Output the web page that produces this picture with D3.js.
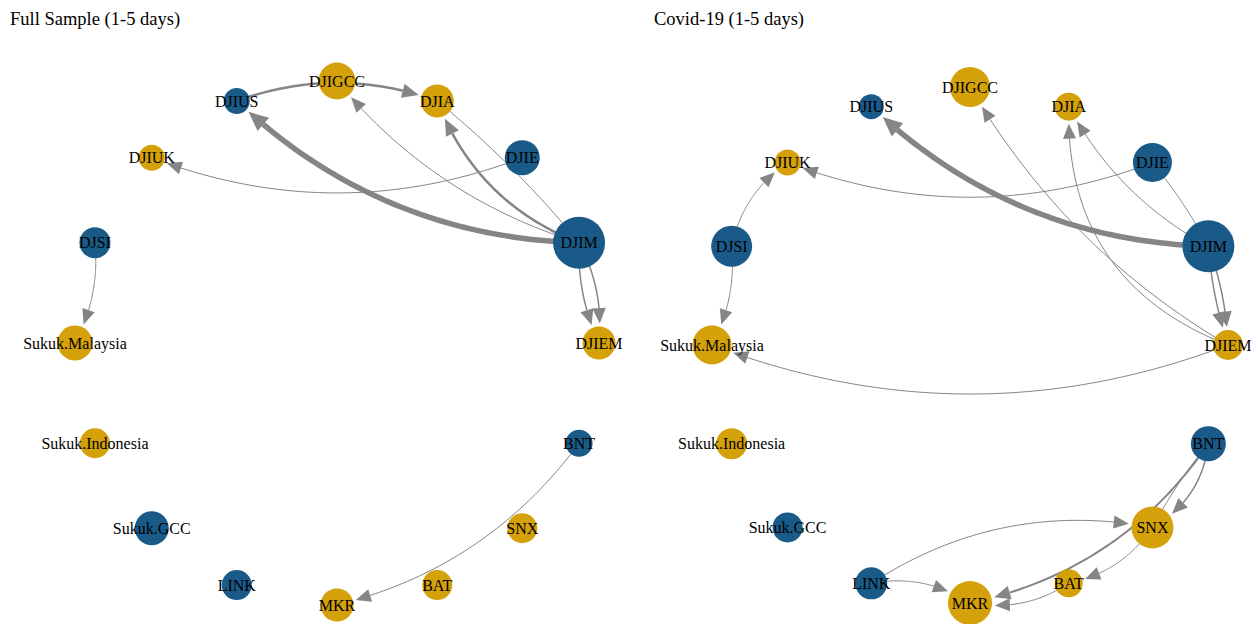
<!DOCTYPE html>
<html>
<head>
<meta charset="utf-8">
<script src="https://cdn.jsdelivr.net/npm/d3@7"></script>
<style>
    body { margin: 0; background: #fff; }
    svg { display: block; }
    text { font-family: "Liberation Serif", "Times New Roman", serif; fill: #000; }
</style>
</head>
<body>
<div id="chart"></div>
<script>
// nodes in circle-layout order (starting at the right, going counter-clockwise)
const nodes = ["DJIEM", "DJIM", "DJIE", "DJIA", "DJIGCC", "DJIUS", "DJIUK", "DJSI",
    "Sukuk.Malaysia", "Sukuk.Indonesia", "Sukuk.GCC", "LINK", "MKR", "BAT", "SNX", "BNT"];
const groups = ["receiver", "transmitter", "transmitter", "receiver", "receiver", "transmitter", "receiver", "transmitter",
    "receiver", "receiver", "transmitter", "transmitter", "receiver", "receiver", "receiver", "transmitter"];

// vertex sizes
const sizeFull = [16.5, 26, 17.5, 16.5, 18.5, 13, 13, 15.5, 17.5, 15, 17, 15, 16.5, 15, 15, 13.5];
const sizeCovid = [15, 26, 19.5, 14, 20, 12.5, 13, 20.5, 19.5, 15.5, 15, 16, 22, 14, 21, 17.5];

// edges: full sample
const fullFrom = ["DJIUS", "DJIM", "DJIM", "DJIM", "DJIA", "DJIE", "DJIM", "DJIM", "DJSI", "BNT"];
const fullTo = ["DJIA", "DJIUS", "DJIGCC", "DJIA", "DJIM", "DJIUK", "DJIEM", "DJIEM", "Sukuk.Malaysia", "MKR"];
const fullWidth = [2.5, 5.5, 1, 2.5, 1, 1, 1.5, 1.5, 1, 1];
const fullCurve = [0.18, 0.19, 0.15, 0.22, 0.05, 0.19, 0.15, -0.12, 0.15, 0.18];
const fullArrow = [1, 1, 1, 1, 0, 1, 1, 1, 1, 1];

// edges: covid-19
const covFrom = ["DJIM", "DJIEM", "DJIEM", "DJIM", "DJIE", "DJIE", "DJSI", "DJSI", "DJIM", "DJIM",
    "DJIEM", "BNT", "SNX", "BNT", "LINK", "LINK", "SNX", "BAT"];
const covTo = ["DJIUS", "DJIGCC", "DJIA", "DJIA", "DJIUK", "DJIM", "DJIUK", "Sukuk.Malaysia", "DJIEM", "DJIEM",
    "Sukuk.Malaysia", "SNX", "BNT", "MKR", "SNX", "MKR", "BAT", "MKR"];
const covWidth = [5.5, 1, 1, 1, 1, 1, 1, 1, 1.5, 1.5, 1, 1.5, 1, 2, 1, 1, 1, 1];
const covCurve = [0.19, 0.13, 0.35, 0.15, 0.19, 0.05, 0.2, 0.15, 0.08, -0.06, 0.19, 0.25, 0.05, 0.2, 0.2, 0.2, 0.2, 0.2];
const covArrow = [1, 1, 1, 1, 1, 0, 1, 1, 1, 1, 1, 1, 0, 1, 1, 1, 1, 1];

const titles = ["Full Sample (1-5 days)", "Covid-19 (1-5 days)"];

const w = 1252;
const h = 624;

const color = d3.scaleOrdinal()
    .domain(["transmitter", "receiver"])
    .range(["#1a5a88", "#d4a10b"]);

const edgeColor = "#858585";

const svg = d3.select("#chart")
    .append("svg")
    .attr("width", w)
    .attr("height", h);

const angle = d3.scaleLinear().domain([0, nodes.length]).range([0, 2 * Math.PI]);
const rScale = d3.scaleLinear().domain([0, 26]).range([0, 26]);

function bez(p0, c, p1, t) {
    const u = 1 - t;
    return {
        x: u * u * p0.x + 2 * u * t * c.x + t * t * p1.x,
        y: u * u * p0.y + 2 * u * t * c.y + t * t * p1.y
    };
}

function dist(a, b) {
    return Math.hypot(a.x - b.x, a.y - b.y);
}

function drawPanel(panel) {
    const g = svg.append("g");

    const xScale = d3.scaleLinear().domain([-1, 1]).range(panel.xRange);
    const yScale = d3.scaleLinear().domain([-1, 1]).range(panel.yRange);

    const pos = {};
    nodes.forEach((n, i) => {
        pos[n] = {
            x: xScale(Math.cos(angle(i))),
            y: yScale(Math.sin(angle(i))),
            r: rScale(panel.sizes[i]),
            group: groups[i]
        };
    });

    const edges = panel.from.map((f, i) => ({
        from: f,
        to: panel.to[i],
        width: panel.width[i],
        curve: panel.curve[i],
        arrow: panel.arrow[i]
    }));

    const line = d3.line().x((d) => d.x).y((d) => d.y);

    edges.forEach((e) => {
        const p0 = pos[e.from];
        const p1 = pos[e.to];
        const dx = p1.x - p0.x;
        const dy = p1.y - p0.y;
        const c = {
            x: (p0.x + p1.x) / 2 + e.curve * dy,
            y: (p0.y + p1.y) / 2 - e.curve * dx
        };

        let tEnd = 1;
        let tip = null;
        const arrowLen = 14 + e.width;
        const halfW = 6 + e.width * 0.5;
        if (e.arrow) {
            // find where the curve meets the target's rim (plus small gap)
            const target = p1.r + 3;
            let lo = 0.3, hi = 1;
            for (let k = 0; k < 40; k++) {
                const mid = (lo + hi) / 2;
                if (dist(bez(p0, c, p1, mid), p1) > target) lo = mid;
                else hi = mid;
            }
            const tTip = lo;
            tip = bez(p0, c, p1, tTip);
            lo = 0;
            hi = tTip;
            for (let k = 0; k < 40; k++) {
                const mid = (lo + hi) / 2;
                if (dist(bez(p0, c, p1, mid), tip) > arrowLen) lo = mid;
                else hi = mid;
            }
            tEnd = lo;
        }

        const pts = d3.range(0, 61).map((k) => bez(p0, c, p1, (k / 60) * tEnd));

        g.append("path")
            .attr("class", "edge")
            .attr("d", line(pts))
            .attr("fill", "none")
            .attr("stroke", edgeColor)
            .attr("stroke-width", e.width);

        if (e.arrow) {
            const base = pts[pts.length - 1];
            const ux = (tip.x - base.x) / arrowLen;
            const uy = (tip.y - base.y) / arrowLen;
            const nx = -uy;
            const ny = ux;
            const tri = [
                [tip.x, tip.y],
                [base.x + nx * halfW, base.y + ny * halfW],
                [base.x - nx * halfW, base.y - ny * halfW]
            ];
            g.append("path")
                .attr("class", "arrow")
                .attr("d", "M" + tri.map((p) => p.join(",")).join("L") + "Z")
                .attr("fill", edgeColor);
        }
    });

    const nodeData = nodes.map((n) => ({ name: n, ...pos[n] }));

    g.selectAll("circle.node")
        .data(nodeData)
        .enter()
        .append("circle")
        .attr("class", "node")
        .attr("cx", (d) => d.x)
        .attr("cy", (d) => d.y)
        .attr("r", (d) => d.r)
        .attr("fill", (d) => color(d.group));

    g.selectAll("text.label")
        .data(nodeData)
        .enter()
        .append("text")
        .attr("class", "label")
        .attr("x", (d) => d.x)
        .attr("y", (d) => d.y)
        .attr("dy", "0.35em")
        .attr("text-anchor", "middle")
        .attr("font-size", 16)
        .text((d) => d.name);

    svg.append("text")
        .attr("x", panel.titleX)
        .attr("y", 25)
        .attr("font-size", 18.5)
        .text(panel.title);
}

drawPanel({
    title: titles[0],
    titleX: 10,
    xRange: [75, 599],
    yRange: [605, 81],
    sizes: sizeFull,
    from: fullFrom,
    to: fullTo,
    width: fullWidth,
    curve: fullCurve,
    arrow: fullArrow
});

drawPanel({
    title: titles[1],
    titleX: 654,
    xRange: [712, 1228],
    yRange: [603, 87],
    sizes: sizeCovid,
    from: covFrom,
    to: covTo,
    width: covWidth,
    curve: covCurve,
    arrow: covArrow
});
</script>
</body>
</html>
